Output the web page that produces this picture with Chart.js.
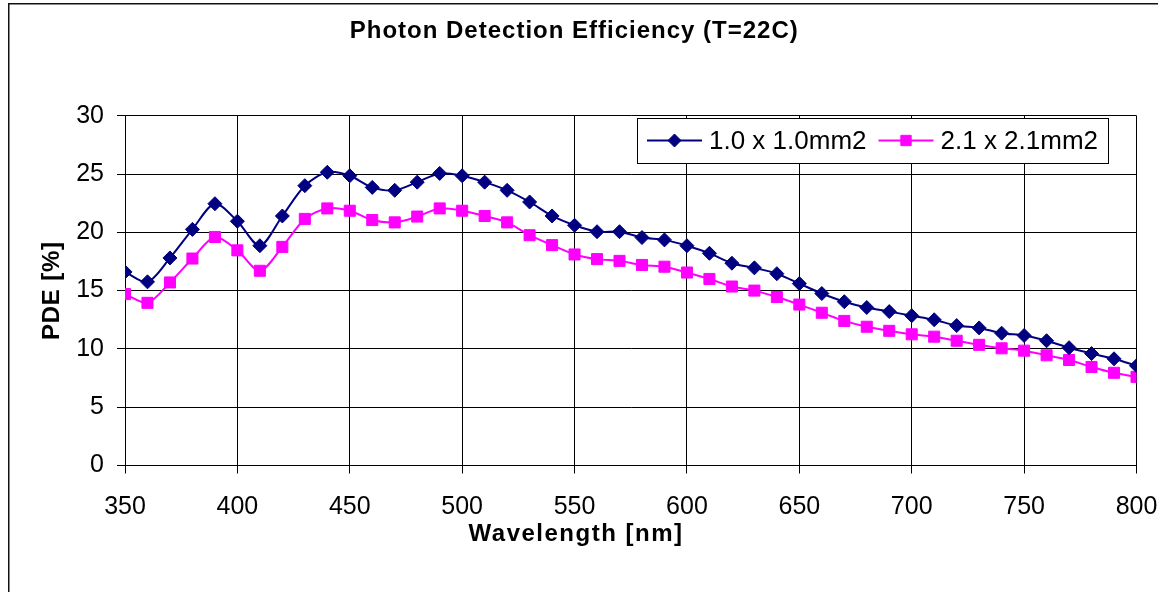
<!DOCTYPE html>
<html>
<head>
<meta charset="utf-8">
<script src="https://cdn.jsdelivr.net/npm/chart.js@4.4.1/dist/chart.umd.min.js"></script>
<style>
  html, body { margin: 0; padding: 0; background: #fff; overflow: hidden; }
  canvas { display: block; }
</style>
</head>
<body>
<canvas id="pde" width="1158" height="592"></canvas>
<script>
// Wavelength samples [nm]
const wavelengths = [350, 360, 370, 380, 390, 400, 410, 420, 430, 440,
                     450, 460, 470, 480, 490, 500, 510, 520, 530, 540,
                     550, 560, 570, 580, 590, 600, 610, 620, 630, 640,
                     650, 660, 670, 680, 690, 700, 710, 720, 730, 740,
                     750, 760, 770, 780, 790, 800];

// PDE [%] for the 1.0 x 1.0 mm2 device
const pdeSmall = [16.6, 15.75, 17.8, 20.25, 22.45, 20.95, 18.85, 21.4, 24.0, 25.15,
                  24.85, 23.85, 23.6, 24.3, 25.05, 24.85, 24.3, 23.6, 22.6, 21.4,
                  20.6, 20.05, 20.05, 19.55, 19.35, 18.85, 18.2, 17.35, 16.95, 16.45,
                  15.6, 14.75, 14.05, 13.55, 13.2, 12.85, 12.5, 12.0, 11.8, 11.35,
                  11.15, 10.7, 10.1, 9.6, 9.15, 8.55];

// PDE [%] for the 2.1 x 2.1 mm2 device
const pdeLarge = [14.7, 13.95, 15.7, 17.75, 19.6, 18.45, 16.7, 18.75, 21.15, 22.05,
                  21.85, 21.05, 20.85, 21.35, 22.05, 21.85, 21.4, 20.85, 19.75, 18.9,
                  18.1, 17.7, 17.55, 17.2, 17.05, 16.55, 16.0, 15.35, 15.0, 14.45,
                  13.8, 13.1, 12.4, 11.9, 11.55, 11.25, 11.05, 10.7, 10.35, 10.05,
                  9.85, 9.45, 9.05, 8.45, 7.95, 7.6];

const seriesNames = ['1.0 x 1.0mm2', '2.1 x 2.1mm2'];
const xTickValues = [350, 400, 450, 500, 550, 600, 650, 700, 750, 800];
const yTickValues = [0, 5, 10, 15, 20, 25, 30];

const chartTitle = 'Photon Detection Efficiency (T=22C)';
const xAxisTitle = 'Wavelength [nm]';
const yAxisTitle = 'PDE [%]';

const FONT = "'Liberation Sans', Arial, Helvetica, sans-serif";
const TICK_SIZE = 25;
const LEGEND_SIZE = 26;
const TITLE_SIZE = 24;

const toPoints = (ys) => wavelengths.map((x, i) => ({ x, y: ys[i] }));

// White page with the outer chart frame
const framePlugin = {
  id: 'frame',
  beforeDraw(chart) {
    const ctx = chart.ctx;
    ctx.save();
    ctx.fillStyle = '#fff';
    ctx.fillRect(0, 0, chart.width, chart.height);
    ctx.strokeStyle = '#111';
    ctx.lineWidth = 1.5;
    ctx.strokeRect(8.75, 3.75, chart.width + 20, chart.height + 20);
    ctx.restore();
  }
};

// Spaced-out lettering for the bold titles, with an optional horizontal nudge
function wrapDraw(obj, method, spacing, shiftFn) {
  if (!obj || obj['__wrapped_' + method]) return;
  const orig = obj[method];
  obj[method] = function (...args) {
    const ctx = this.ctx || (this.chart && this.chart.ctx);
    ctx.save();
    ctx.letterSpacing = spacing;
    if (shiftFn) ctx.translate(shiftFn(this), 0);
    const r = orig.apply(this, args);
    ctx.restore();
    return r;
  };
  obj['__wrapped_' + method] = true;
}
const titleStylePlugin = {
  id: 'titleStyle',
  afterLayout(chart) {
    wrapDraw(chart.titleBlock, 'draw', '1px', () => 6);
    wrapDraw(chart.scales.x, 'drawTitle', '1.5px',
      (s) => s.chart.width / 2 - 3 - (s.left + s.right) / 2);
    wrapDraw(chart.scales.y, 'drawTitle', '0.8px');
  }
};

// Boxed legend inside the plot: line sample with marker, then the label
const boxedLegend = {
  id: 'boxedLegend',
  afterDatasetsDraw(chart) {
    const ctx = chart.ctx;
    const left = 637, top = 118, height = 45;
    const cy = top + height / 2;
    const lineLen = 55, gapText = 7, gapItem = 12, padL = 10, padR = 10;
    ctx.save();
    ctx.font = `${LEGEND_SIZE}px ${FONT}`;
    const items = chart.data.datasets.map(ds => ({ ds, w: ctx.measureText(ds.label).width }));
    let width = padL + padR;
    items.forEach((it, i) => { width += lineLen + gapText + it.w + (i ? gapItem : 0); });
    ctx.fillStyle = '#fff';
    ctx.fillRect(left, top, width, height);
    ctx.strokeStyle = '#000';
    ctx.lineWidth = 1;
    ctx.strokeRect(Math.round(left) + 0.5, Math.round(top) + 0.5, Math.round(width), height);
    let x = left + padL;
    items.forEach((it, i) => {
      if (i) x += gapItem;
      const ds = it.ds;
      ctx.strokeStyle = ds.borderColor;
      ctx.lineWidth = ds.borderWidth;
      ctx.beginPath();
      ctx.moveTo(x, cy);
      ctx.lineTo(x + lineLen, cy);
      ctx.stroke();
      ctx.fillStyle = ds.pointBackgroundColor;
      ctx.strokeStyle = ds.pointBorderColor;
      ctx.lineWidth = ds.pointBorderWidth;
      Chart.helpers.drawPoint(ctx, {
        pointStyle: ds.pointStyle, radius: ds.pointRadius - 0.5, rotation: 0, borderWidth: ds.pointBorderWidth
      }, x + lineLen / 2, cy);
      x += lineLen + gapText;
      ctx.fillStyle = '#000';
      ctx.textBaseline = 'middle';
      ctx.textAlign = 'left';
      ctx.fillText(ds.label, x, cy + 1);
      x += it.w;
    });
    ctx.restore();
  }
};

const chart = new Chart(document.getElementById('pde'), {
  type: 'line',
  data: {
    datasets: [
      {
        label: seriesNames[0],
        data: toPoints(pdeSmall),
        borderColor: '#000080',
        backgroundColor: '#000080',
        borderWidth: 2,
        tension: 0.3,
        pointStyle: 'rectRot',
        pointRadius: 7,
        pointBackgroundColor: '#000080',
        pointBorderColor: '#000080',
        pointBorderWidth: 1
      },
      {
        label: seriesNames[1],
        data: toPoints(pdeLarge),
        borderColor: '#ff00ff',
        backgroundColor: '#ff00ff',
        borderWidth: 2,
        tension: 0.3,
        pointStyle: 'rect',
        pointRadius: 7.8,
        pointBackgroundColor: '#ff00ff',
        pointBorderColor: '#ff00ff',
        pointBorderWidth: 1
      }
    ]
  },
  options: {
    responsive: false,
    animation: false,
    devicePixelRatio: 1,
    layout: { padding: { left: 0, right: 21.5, top: 0, bottom: 0 } },
    plugins: {
      legend: { display: false },
      tooltip: { enabled: false },
      title: {
        display: true,
        text: chartTitle,
        color: '#000',
        font: { family: FONT, size: TITLE_SIZE, weight: 'bold' },
        padding: { top: 16.5, bottom: 70.4 }
      }
    },
    scales: {
      x: {
        type: 'linear',
        min: 350,
        max: 800,
        afterBuildTicks(scale) { scale.ticks = xTickValues.map(v => ({ value: v })); },
        afterFit(scale) {
          scale.height = 592 - 465.5;
          scale.paddingLeft = 0;
          scale.paddingRight = 0;
        },
        ticks: {
          color: '#000',
          font: { family: FONT, size: TICK_SIZE },
          padding: 19,
          maxRotation: 0,
          autoSkip: false
        },
        grid: { color: '#000', lineWidth: 1, tickLength: 8, drawTicks: true },
        border: { color: '#000', width: 1 },
        title: {
          display: true,
          text: xAxisTitle,
          color: '#000',
          font: { family: FONT, size: TITLE_SIZE, weight: 'bold' },
          padding: { top: 43, bottom: 43 }
        }
      },
      y: {
        type: 'linear',
        min: 0,
        max: 30,
        afterBuildTicks(scale) { scale.ticks = yTickValues.map(v => ({ value: v })); },
        afterFit(scale) {
          scale.width = 125;
          scale.paddingTop = 0;
          scale.paddingBottom = 0;
        },
        ticks: {
          color: '#000',
          font: { family: FONT, size: TICK_SIZE },
          padding: 13,
          autoSkip: false
        },
        grid: { color: '#000', lineWidth: 1, tickLength: 8, drawTicks: true },
        border: { color: '#000', width: 1 },
        title: {
          display: true,
          text: yAxisTitle,
          color: '#000',
          font: { family: FONT, size: TITLE_SIZE, weight: 'bold' },
          padding: { top: 37.6, bottom: 37.6 }
        }
      }
    }
  },
  plugins: [framePlugin, titleStylePlugin, boxedLegend]
});
</script>
</body>
</html>
